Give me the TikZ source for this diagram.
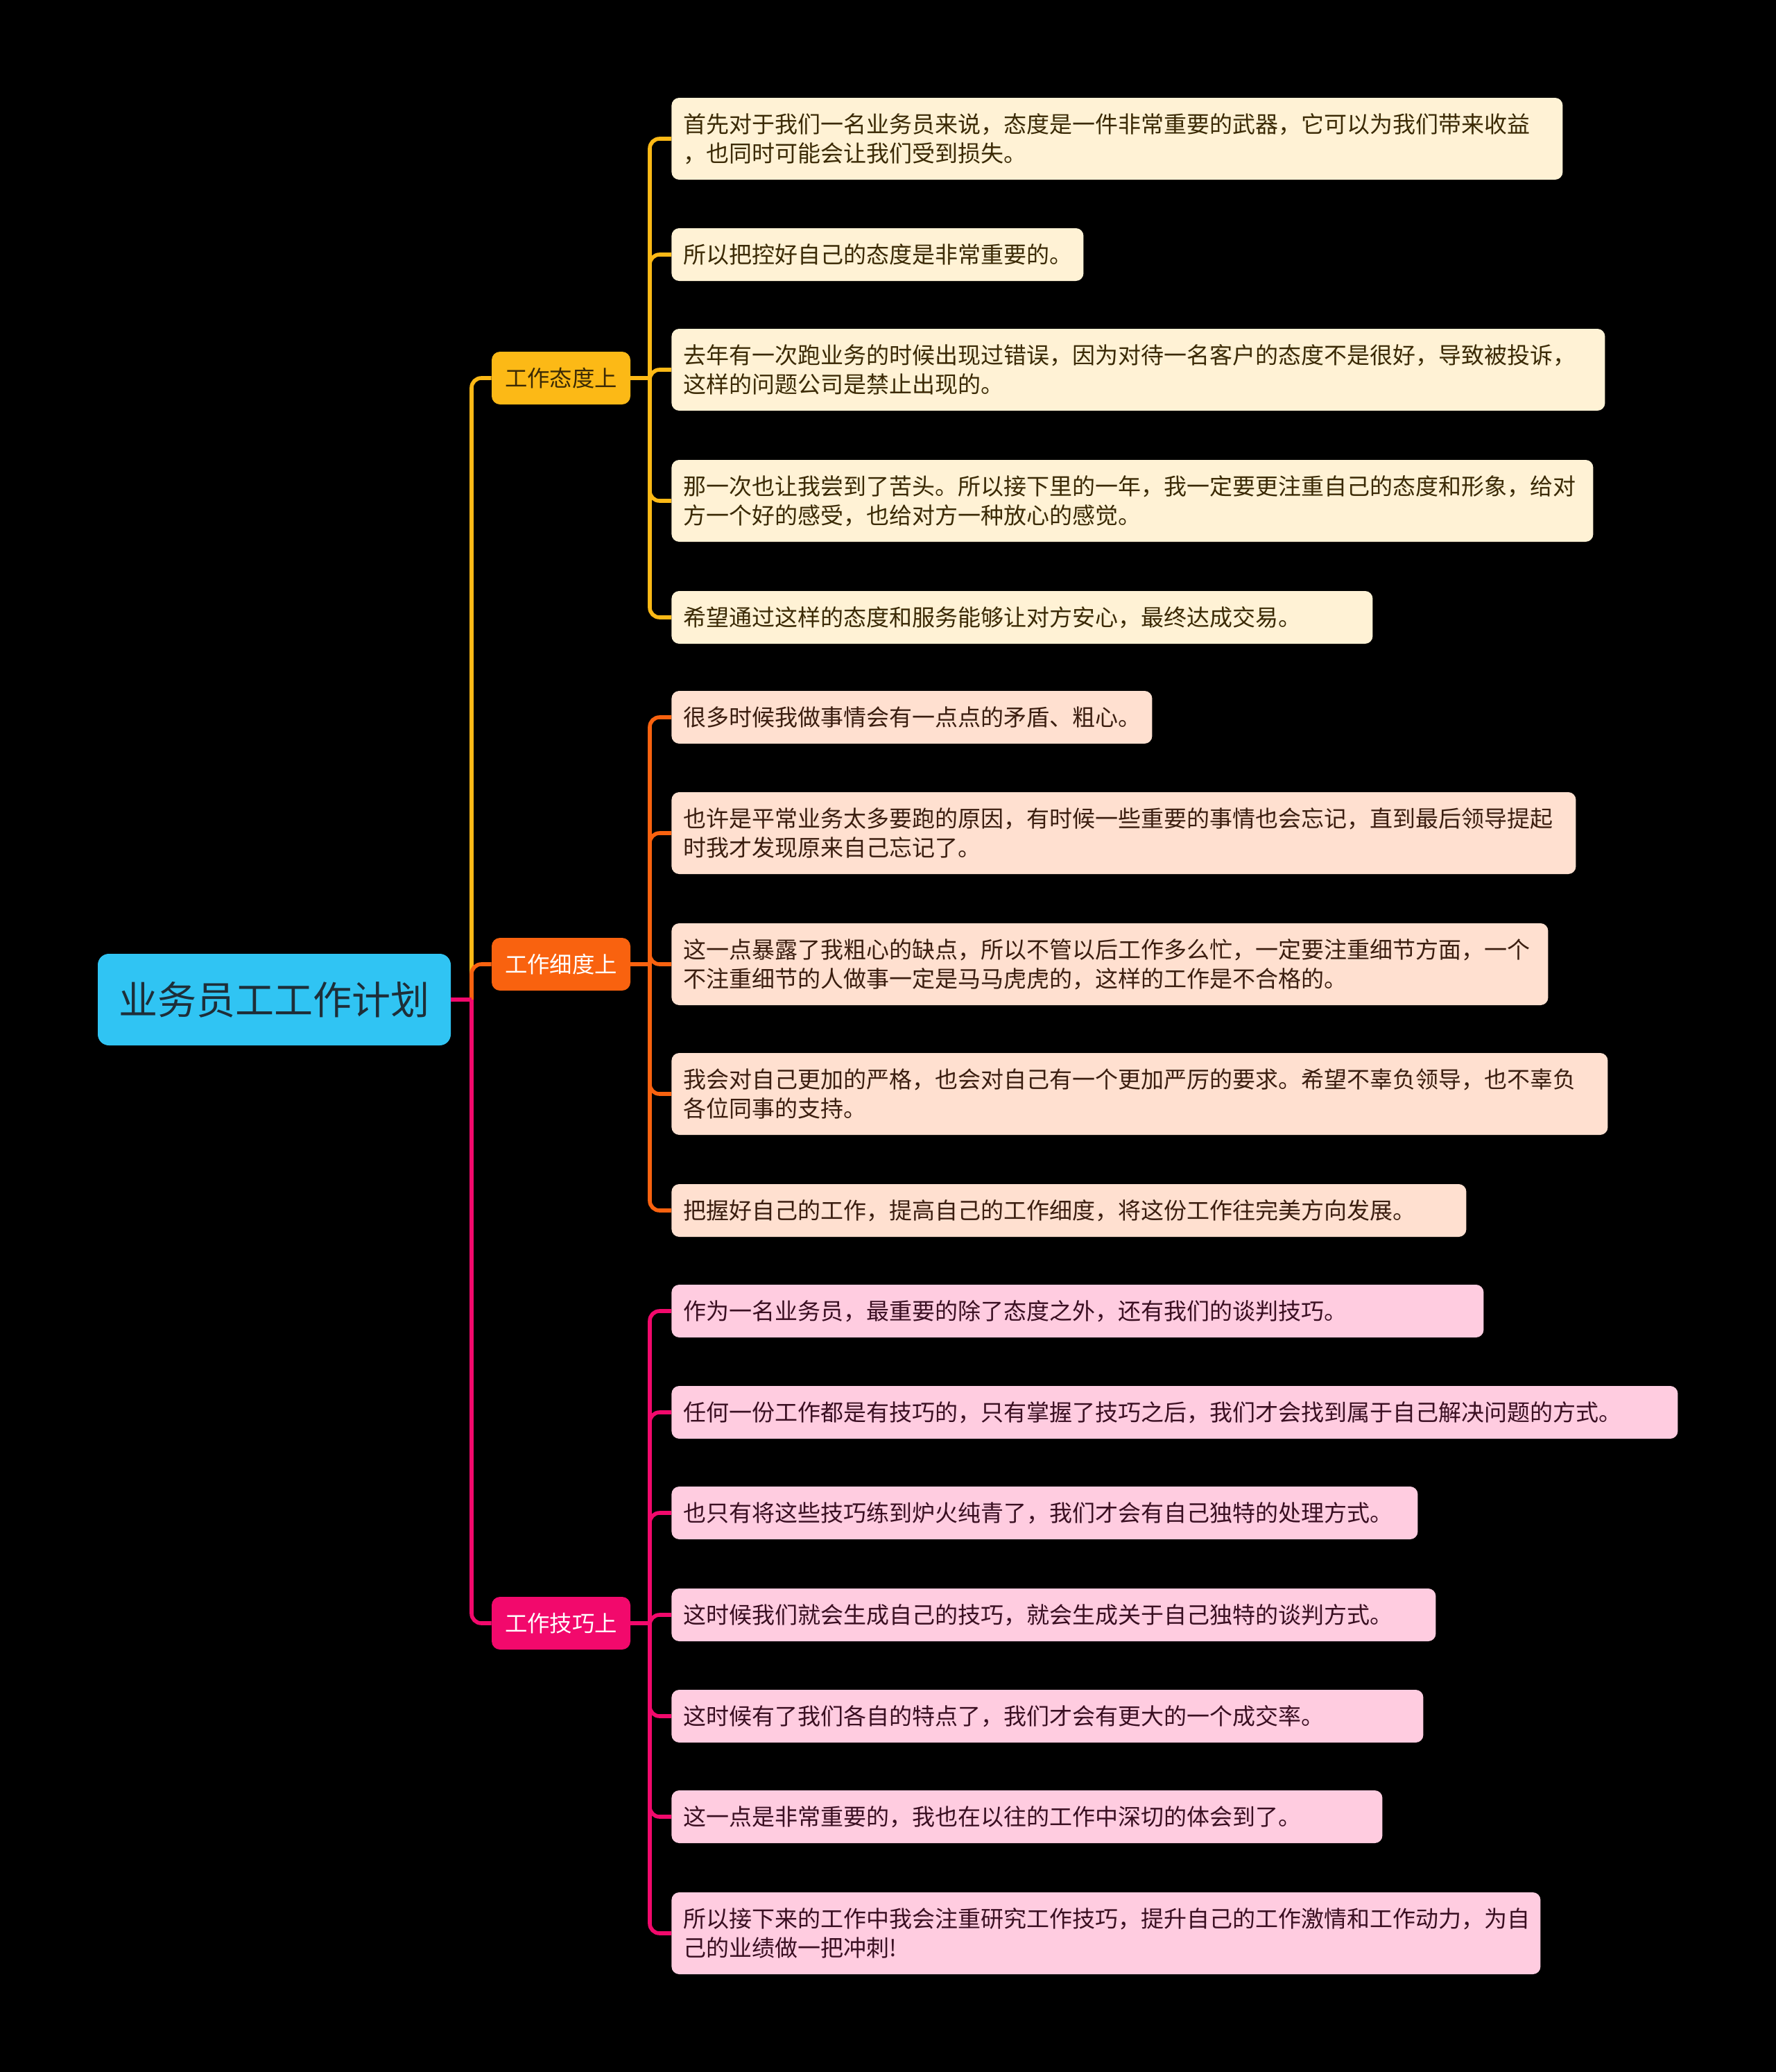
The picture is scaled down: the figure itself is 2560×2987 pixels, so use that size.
\documentclass[tikz,border=0pt]{standalone}
\usepackage{fontspec}
\newfontfamily\cjkfont{Noto Sans CJK SC}
\definecolor{rootblue}{HTML}{30C4F3}
\definecolor{roottext}{HTML}{1E2E38}
\definecolor{attyellow}{HTML}{FCB916}
\definecolor{attleaf}{HTML}{FFF2D5}
\definecolor{attdark}{HTML}{3B2A05}
\definecolor{detorange}{HTML}{F9620F}
\definecolor{detleaf}{HTML}{FFE0D0}
\definecolor{detdark}{HTML}{3B1E10}
\definecolor{skillpink}{HTML}{F2096C}
\definecolor{skillleaf}{HTML}{FFCCE0}
\definecolor{skilldark}{HTML}{3A0F22}
\tikzset{
rootnode/.style={rectangle, rounded corners=8pt, fill=rootblue, text=roottext, inner sep=0pt, minimum width=254.5pt, minimum height=66pt, font=\cjkfont\fontsize{28}{34}\selectfont},
branchnodev1/.style={rectangle, rounded corners=6pt, fill=attyellow, text=attdark, inner sep=0pt, minimum width=100pt, minimum height=38pt, font=\cjkfont\fontsize{16.2}{20}\selectfont},
branchnodev2/.style={branchnodev1, fill=detorange, text=white},
branchnodev3/.style={branchnodev1, fill=skillpink, text=white},
leafnodev1/.style={rectangle, rounded corners=5.5pt, fill=attleaf, text=attdark, anchor=west, align=left, inner xsep=8.5pt, inner ysep=2pt, minimum height=38pt, font=\cjkfont\fontsize{16.5}{21}\selectfont},
leafnodev2/.style={leafnodev1, fill=detleaf, text=detdark},
leafnodev3/.style={leafnodev1, fill=skillleaf, text=skilldark},
linev1/.style={draw=attyellow, line width=2.8pt, rounded corners=7pt},
linev2/.style={draw=detorange, line width=2.8pt, rounded corners=7pt},
linev3/.style={draw=skillpink, line width=2.8pt, rounded corners=7pt},
}
\begin{document}
\begin{tikzpicture}[x=0.5pt, y=-0.5pt]
\useasboundingbox (0,0) rectangle (2560,2987);
\fill[black] (-10,-10) rectangle (2570,2997);
\node[rootnode] at (395.5,1441) (root) {业务员工工作计划};
\node[branchnodev1] at (809,545) (b1) {工作态度上};
\node[branchnodev2] at (809,1390) (b2) {工作细度上};
\node[branchnodev3] at (809,2340) (b3) {工作技巧上};
\coordinate (rj) at (680,1441);
\coordinate (j1) at (937,545);
\coordinate (j2) at (937,1390);
\coordinate (j3) at (937,2340);
\node[leafnodev1, text width=625.5pt, minimum height=59pt] at (968,200) (a1) {首先对于我们一名业务员来说，态度是一件非常重要的武器，它可以为我们带来收益\\，也同时可能会让我们受到损失。};
\node[leafnodev1, text width=280pt] at (968,367) (a2) {所以把控好自己的态度是非常重要的。};
\node[leafnodev1, text width=656pt, minimum height=59pt] at (968,533) (a3) {去年有一次跑业务的时候出现过错误，因为对待一名客户的态度不是很好，导致被投诉，\\这样的问题公司是禁止出现的。};
\node[leafnodev1, text width=647.5pt, minimum height=59pt] at (968,722) (a4) {那一次也让我尝到了苦头。所以接下里的一年，我一定要更注重自己的态度和形象，给对\\方一个好的感受，也给对方一种放心的感觉。};
\node[leafnodev1, text width=488.5pt] at (968,890) (a5) {希望通过这样的态度和服务能够让对方安心，最终达成交易。};
\node[leafnodev2, text width=329.5pt] at (968,1034) (d1) {很多时候我做事情会有一点点的矛盾、粗心。};
\node[leafnodev2, text width=635pt, minimum height=59pt] at (968,1201) (d2) {也许是平常业务太多要跑的原因，有时候一些重要的事情也会忘记，直到最后领导提起\\时我才发现原来自己忘记了。};
\node[leafnodev2, text width=615pt, minimum height=59pt] at (968,1390) (d3) {这一点暴露了我粗心的缺点，所以不管以后工作多么忙，一定要注重细节方面，一个\\不注重细节的人做事一定是马马虎虎的，这样的工作是不合格的。};
\node[leafnodev2, text width=658pt, minimum height=59pt] at (968,1577) (d4) {我会对自己更加的严格，也会对自己有一个更加严厉的要求。希望不辜负领导，也不辜负\\各位同事的支持。};
\node[leafnodev2, text width=556pt] at (968,1745) (d5) {把握好自己的工作，提高自己的工作细度，将这份工作往完美方向发展。};
\node[leafnodev3, text width=568.5pt] at (968,1890) (s1) {作为一名业务员，最重要的除了态度之外，还有我们的谈判技巧。};
\node[leafnodev3, text width=708.5pt] at (968,2036) (s2) {任何一份工作都是有技巧的，只有掌握了技巧之后，我们才会找到属于自己解决问题的方式。};
\node[leafnodev3, text width=521pt] at (968,2181) (s3) {也只有将这些技巧练到炉火纯青了，我们才会有自己独特的处理方式。};
\node[leafnodev3, text width=534pt] at (968,2328) (s4) {这时候我们就会生成自己的技巧，就会生成关于自己独特的谈判方式。};
\node[leafnodev3, text width=525pt] at (968,2474) (s5) {这时候有了我们各自的特点了，我们才会有更大的一个成交率。};
\node[leafnodev3, text width=495.5pt] at (968,2619) (s6) {这一点是非常重要的，我也在以往的工作中深切的体会到了。};
\node[leafnodev3, text width=609.5pt, minimum height=59pt] at (968,2787) (s7) {所以接下来的工作中我会注重研究工作技巧，提升自己的工作激情和工作动力，为自\\己的业绩做一把冲刺!};
\draw[linev1] (rj) |- (b1.west);
\draw[linev2] (rj) |- (b2.west);
\draw[linev3] (rj) |- (b3.west);
\draw[linev3] (root.east) -- (rj);
\draw[linev1] (b1.east) -- (j1);
\foreach \n in {a1,a2,a3,a4,a5} {\draw[linev1] (j1) |- (\n.west);}
\draw[linev2] (b2.east) -- (j2);
\foreach \n in {d1,d2,d3,d4,d5} {\draw[linev2] (j2) |- (\n.west);}
\draw[linev3] (b3.east) -- (j3);
\foreach \n in {s1,s2,s3,s4,s5,s6,s7} {\draw[linev3] (j3) |- (\n.west);}
\end{tikzpicture}
\end{document}
